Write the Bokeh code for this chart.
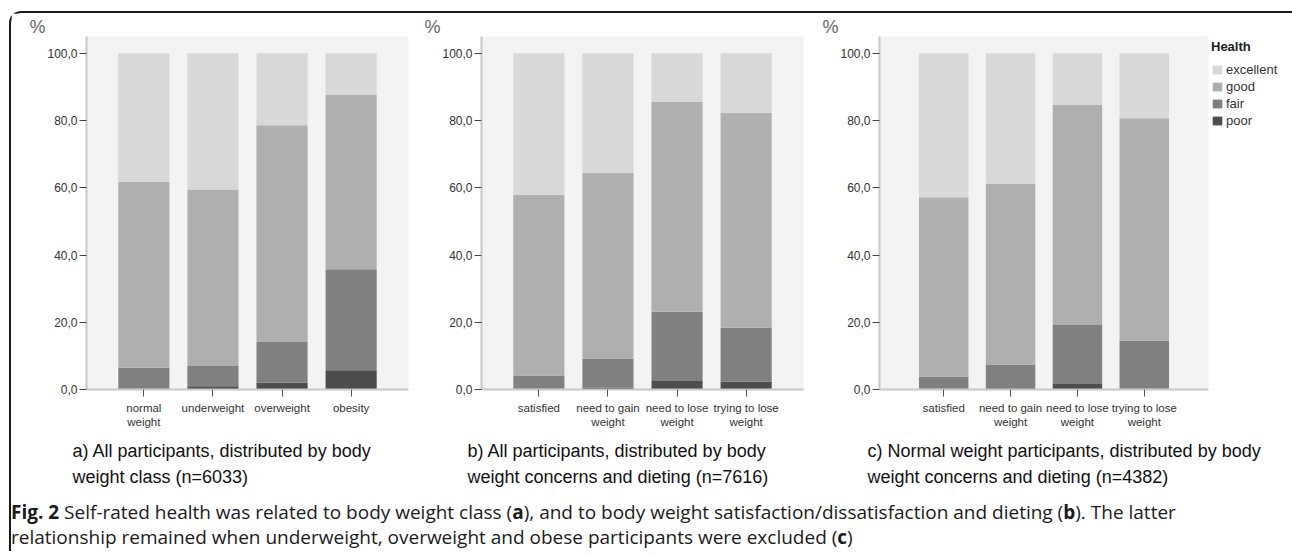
from bokeh.plotting import figure
from bokeh.models import FactorRange, Range1d, FixedTicker, Legend, LegendItem, Title, Div, ColumnDataSource
from bokeh.layouts import row, column
from bokeh.embed import file_html
from bokeh.resources import INLINE

# ---------------- data ----------------
health_levels = ["poor", "fair", "good", "excellent"]
health_colors = ["#4d4d4d", "#808080", "#afafaf", "#d8d8d8"]

cats_a = ["normal\nweight", "underweight", "overweight", "obesity"]
poor_a = [0.3, 1.0, 2.0, 5.7]
fair_a = [6.2, 6.0, 12.3, 30.1]
good_a = [55.3, 52.5, 64.3, 51.8]
excellent_a = [38.2, 40.5, 21.4, 12.4]

cats_b = ["satisfied", "need to gain\nweight", "need to lose\nweight", "trying to lose\nweight"]
poor_b = [0.3, 0.5, 2.5, 2.4]
fair_b = [3.9, 8.6, 20.6, 16.0]
good_b = [53.7, 55.4, 62.5, 63.9]
excellent_b = [42.1, 35.5, 14.4, 17.7]

cats_c = ["satisfied", "need to gain\nweight", "need to lose\nweight", "trying to lose\nweight"]
poor_c = [0.2, 0.4, 1.6, 0.3]
fair_c = [3.6, 7.0, 17.6, 14.3]
good_c = [53.4, 53.8, 65.4, 66.1]
excellent_c = [42.8, 38.8, 15.4, 19.3]

y_ticks = [0, 20, 40, 60, 80, 100]
y_tick_labels = ["0,0", "20,0", "40,0", "60,0", "80,0", "100,0"]

sub_a = "a) All participants, distributed by body\nweight class (n=6033)"
sub_b = "b) All participants, distributed by body\nweight concerns and dieting (n=7616)"
sub_c = "c) Normal weight participants, distributed by body\nweight concerns and dieting (n=4382)"

legend_title = "Health"
unit_label = "%"

caption_html = (
    '<div style="font-family:\'Open Sans\',\'Noto Sans\',sans-serif;font-size:19px;line-height:25px;'
    'color:#1a1a1a;white-space:nowrap;padding-left:0px;padding-top:6px;">'
    '<b>Fig. 2</b> Self-rated health was related to body weight class (<b>a</b>), and to body weight '
    'satisfaction/dissatisfaction and dieting (<b>b</b>). The latter<br>'
    'relationship remained when underweight, overweight and obese participants were excluded (<b>c</b>)'
    '</div>'
)

LAB_FONT = "'Liberation Sans', Arial"


def make_panel(cats, poor, fair, good, excellent, frame_w, pad, min_left, min_right,
               subcap, sub_offset, with_legend=False):
    src = ColumnDataSource(dict(cat=cats, poor=poor, fair=fair, good=good, excellent=excellent))
    p = figure(
        x_range=FactorRange(factors=cats, range_padding=pad, range_padding_units="absolute"),
        y_range=Range1d(0, 105),
        frame_width=frame_w, frame_height=353,
        min_border_left=min_left, min_border_right=min_right,
        min_border_top=23, min_border_bottom=103,
        output_backend="svg", toolbar_location=None,
        background_fill_color="#f3f3f3", border_fill_color="white",
        outline_line_color=None,
    )
    rs = p.vbar_stack(health_levels, x="cat", width=0.74, color=health_colors,
                      line_color=None, source=src)
    p.xgrid.visible = False
    p.ygrid.visible = False

    ya = p.yaxis[0]
    ya.ticker = FixedTicker(ticks=y_ticks)
    ya.major_label_overrides = {t: l for t, l in zip(y_ticks, y_tick_labels)}
    ya.minor_tick_line_color = None
    ya.axis_line_color = "#c8c8c8"
    ya.axis_line_width = 2
    ya.major_tick_line_color = "#444444"
    ya.major_tick_out = 7
    ya.major_tick_in = 0
    ya.major_label_standoff = 2
    ya.major_label_text_font = LAB_FONT
    ya.major_label_text_font_size = "12px"
    ya.major_label_text_color = "#333333"

    xa = p.xaxis[0]
    xa.axis_line_color = "#c8c8c8"
    xa.axis_line_width = 2
    xa.major_tick_line_color = "#555555"
    xa.major_tick_out = 7
    xa.major_tick_in = 0
    xa.major_label_standoff = 5
    xa.major_label_text_font = LAB_FONT
    xa.major_label_text_font_size = "11.5px"
    xa.major_label_text_color = "#333333"

    pct = Title(text=unit_label, align="left", offset=-57, text_font=LAB_FONT,
                text_font_size="18px", text_font_style="normal", text_color="#666666",
                text_line_height=0.5, standoff=0)
    p.add_layout(pct, "above")

    p.add_layout(Title(text=subcap, align="left", offset=sub_offset, text_font=LAB_FONT,
                       text_font_size="18px", text_font_style="normal", text_color="#111111",
                       text_line_height=1.3, standoff=16), "below")

    if with_legend:
        items = [LegendItem(label=lvl, renderers=[r]) for lvl, r in zip(health_levels, rs)][::-1]
        leg = Legend(items=items, title=legend_title, title_text_font=LAB_FONT,
                     title_text_font_style="bold", title_text_font_size="13px",
                     title_text_color="#222222", title_standoff=8,
                     label_text_font=LAB_FONT, label_text_font_size="13px",
                     label_text_color="#333333", label_standoff=3,
                     glyph_width=12, glyph_height=11, label_height=11, spacing=2,
                     padding=0, margin=3, border_line_color=None,
                     background_fill_alpha=0, location="top_left")
        p.add_layout(leg, "right")
    return p


pa = make_panel(cats_a, poor_a, fair_a, good_a, excellent_a, 322, 0.33, 75, 8, sub_a, -14)
pb = make_panel(cats_b, poor_b, fair_b, good_b, excellent_b, 322, 0.33, 65, 8, sub_b, -14)
pc = make_panel(cats_c, poor_c, fair_c, good_c, excellent_c, 329, 0.46, 68, 10, sub_c, -12,
                with_legend=True)

cap = Div(text=caption_html, width=1277, height=57, margin=0)

layout = column(
    row(pa, pb, pc),
    cap,
    margin=(11, 0, 0, 9),
    styles={
        "border-top": "2px solid #1a1a1a",
        "border-left": "2px solid #1a1a1a",
        "border-right": "2px solid #1a1a1a",
        "border-top-left-radius": "12px",
        "border-top-right-radius": "12px",
    },
)

open("out.html", "w").write(file_html(layout, INLINE))
